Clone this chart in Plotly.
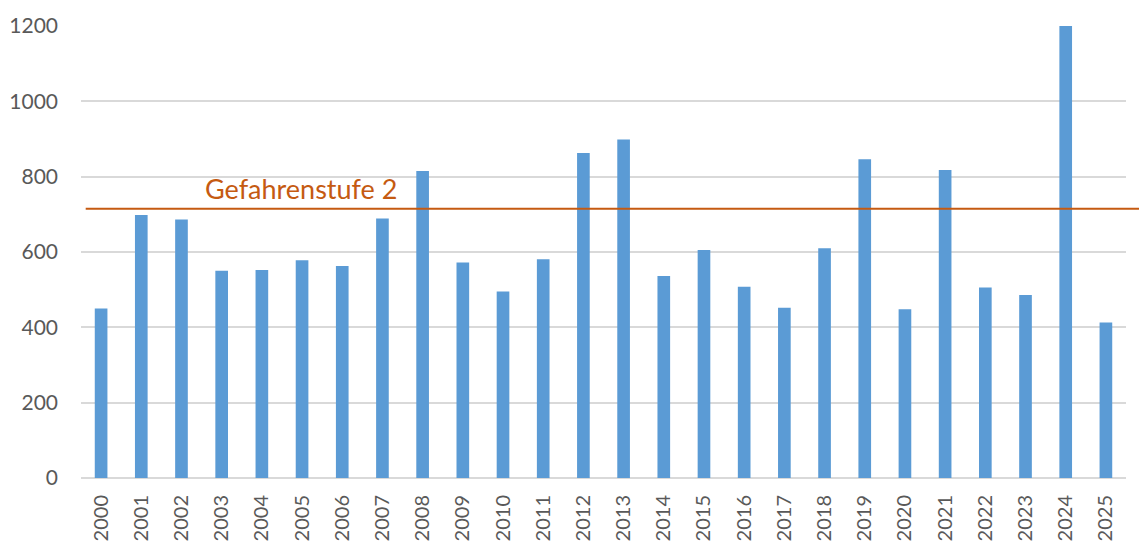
import plotly.graph_objects as go

years = [str(y) for y in range(2000, 2026)]
values = [450, 698, 686, 550, 552, 578, 563, 689, 815, 572, 495, 581, 863,
          899, 536, 605, 508, 452, 610, 846, 448, 818, 506, 486, 1200, 413]
threshold = 715
threshold_label = "Gefahrenstufe 2"
y_ticks = [0, 200, 400, 600, 800, 1000, 1200]

BAR = "#5B9BD5"
ORANGE = "#C55A11"
GRID = "#D9D9D9"
TXT = "#595959"
FONT = "Lato"

fig = go.Figure()
fig.add_trace(go.Bar(x=years, y=values, marker=dict(color=BAR, line=dict(width=0)),
                     width=0.315, showlegend=False))

fig.add_shape(type="line", xref="paper", yref="y", x0=0.0045, x1=1.03,
              y0=threshold, y1=threshold, line=dict(color=ORANGE, width=2), layer="above")
fig.add_annotation(x=0.1165, y=threshold, xref="paper", yref="y", text=threshold_label,
                   showarrow=False, xanchor="left", yanchor="bottom", yshift=2,
                   font=dict(family=FONT, size=27, color=ORANGE))

fig.update_layout(
    width=1139, height=535,
    margin=dict(l=73, r=21, t=18, b=65),
    paper_bgcolor="white", plot_bgcolor="white",
    font=dict(family=FONT, color=TXT),
    xaxis=dict(type="category", range=[-0.5, 25.5], tickangle=-90, automargin=False,
               tickfont=dict(family=FONT, size=20, color=TXT), showgrid=False,
               ticks="", ticklabelstandoff=12, showline=False, zeroline=False),
    yaxis=dict(range=[0, 1200], tickvals=y_ticks, showgrid=True, gridcolor=GRID,
               gridwidth=2, zeroline=True, zerolinecolor=GRID, zerolinewidth=2,
               automargin=False,
               tickfont=dict(family=FONT, size=21, color=TXT), ticks="",
               ticklabelstandoff=22, showline=False),
)
fig.write_html("out.html")
